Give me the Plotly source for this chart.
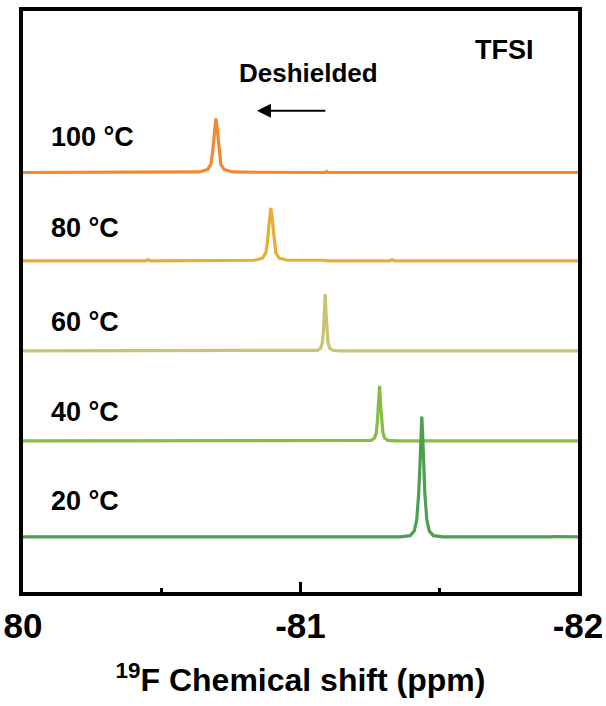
import plotly.graph_objects as go

# ---------------- data ----------------
temps = ["100 °C", "80 °C", "60 °C", "40 °C", "20 °C"]
colors = ["#F0892F", "#E8AD35", "#C9C473", "#86BD45", "#4F9F52"]
offsets = [72.2, 57.0, 41.5, 26.0, 9.5]

shift_100 = [-80.0, -80.55, -80.635, -80.665, -80.677, -80.683, -80.687, -80.691, -80.695,
             -80.699, -80.703, -80.707, -80.713, -80.725, -80.755, -80.84, -80.905, -80.91,
             -81.088, -81.094, -81.1, -82.0]
int_100 = [0.0, 0.0, 0.1, 0.5, 1.4, 3.3, 5.6, 7.9, 9.3,
           7.9, 5.6, 3.3, 1.4, 0.5, 0.1, 0.05, 0.05, 0.0,
           0.0, 0.15, 0.0, 0.0]

shift_80 = [-80.0, -80.44, -80.45, -80.46, -80.833, -80.863, -80.875, -80.881, -80.885,
            -80.889, -80.893, -80.897, -80.901, -80.905, -80.911, -80.923, -80.953,
            -81.08, -81.1, -81.32, -81.33, -81.34, -82.0]
int_80 = [0.0, 0.0, 0.2, 0.0, 0.1, 0.45, 1.4, 3.2, 5.5,
          7.7, 9.1, 7.7, 5.5, 3.2, 1.4, 0.45, 0.1,
          0.1, 0.0, 0.0, 0.2, 0.0, 0.0]

shift_60 = [-80.0, -81.035, -81.062, -81.073, -81.079, -81.083, -81.086, -81.089,
            -81.092, -81.095, -81.099, -81.105, -81.116, -81.143, -81.5, -82.0]
int_60 = [0.0, 0.0, 0.1, 0.5, 1.5, 3.6, 6.5, 9.8,
          6.5, 3.6, 1.5, 0.5, 0.1, 0.0, 0.05, 0.0]

shift_40 = [-80.0, -81.225, -81.255, -81.267, -81.273, -81.277, -81.281, -81.285,
            -81.289, -81.293, -81.297, -81.303, -81.315, -81.345, -82.0]
int_40 = [0.0, 0.0, 0.1, 0.5, 1.4, 3.4, 6.0, 9.5,
          6.0, 3.4, 1.4, 0.5, 0.1, 0.0, 0.0]

shift_20 = [-80.0, -81.36, -81.395, -81.41, -81.419, -81.426, -81.431, -81.434, -81.437,
            -81.440, -81.443, -81.448, -81.455, -81.464, -81.479, -81.514, -81.9, -81.91, -82.0]
int_20 = [0.0, 0.0, 0.2, 1.0, 3.0, 7.5, 13.0, 18.0, 20.7,
          18.0, 13.0, 7.5, 3.0, 1.0, 0.2, 0.0, 0.0, 0.05, 0.0]

shifts = [shift_100, shift_80, shift_60, shift_40, shift_20]
intensities = [int_100, int_80, int_60, int_40, int_20]

label_y = [78.3, 62.65, 46.47, 30.98, 15.66]

x_tickvals = [-80, -81, -82]
x_ticktext = ["80", "-81", "-82"]
x_minor = [-80.5, -81.5]

FONT = "Liberation Sans, Arial, sans-serif"

fig = go.Figure()
for name, col, off, xs, ys in zip(temps, colors, offsets, shifts, intensities):
    fig.add_trace(go.Scatter(
        x=xs, y=[off + v for v in ys], mode="lines", name=name,
        line=dict(color=col, width=3.2), showlegend=False, hoverinfo="skip"))

for name, ly in zip(temps, label_y):
    fig.add_annotation(x=-80.094, y=ly, xref="x", yref="y", text=name, showarrow=False,
                       xanchor="left", yanchor="middle",
                       font=dict(family=FONT, size=27, color="black", weight="bold"))

fig.add_annotation(x=-81.029, y=89.3, xref="x", yref="y", text="Deshielded", showarrow=False,
                   xanchor="center", yanchor="middle",
                   font=dict(family=FONT, size=26, color="black", weight="bold"))
fig.add_annotation(x=-81.735, y=93.3, xref="x", yref="y", text="TFSI", showarrow=False,
                   xanchor="center", yanchor="middle",
                   font=dict(family=FONT, size=27, color="black", weight="bold"))
fig.add_annotation(x=-80.843, y=82.84, ax=-81.095, ay=82.84, xref="x", yref="y",
                   axref="x", ayref="y", text="", showarrow=True,
                   arrowhead=2, arrowsize=1.4, arrowwidth=2, arrowcolor="black")

fig.update_layout(
    width=606, height=706,
    margin=dict(l=23, r=28, t=11, b=114, autoexpand=False),
    paper_bgcolor="white", plot_bgcolor="white",
    xaxis=dict(
        range=[-80, -82], tickvals=x_tickvals, ticktext=x_ticktext,
        ticks="inside", ticklen=10, tickwidth=3, tickcolor="black",
        minor=dict(tickvals=x_minor, ticks="inside", ticklen=4, tickwidth=3, tickcolor="black"),
        showline=True, linewidth=4, linecolor="black", mirror=True,
        showgrid=False, zeroline=False, ticklabelstandoff=0, automargin=False,
        tickfont=dict(family=FONT, size=35, color="black", weight="bold"),
        title=dict(text="<sup>19</sup>F Chemical shift (ppm)", standoff=26,
                   font=dict(family=FONT, size=32, color="black", weight="bold")),
    ),
    yaxis=dict(
        range=[0, 100], showticklabels=False, ticks="", automargin=False,
        showline=True, linewidth=4, linecolor="black", mirror=True,
        showgrid=False, zeroline=False,
    ),
)

fig.write_html("out.html")
